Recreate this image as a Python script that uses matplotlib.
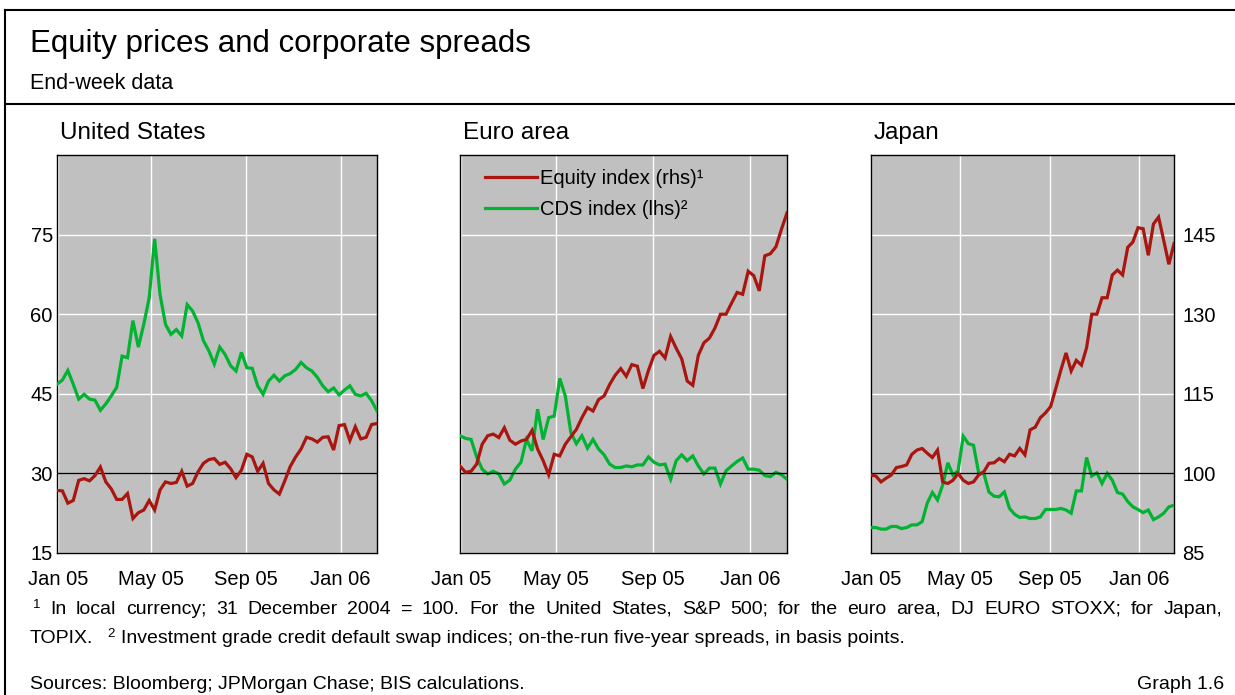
import matplotlib
matplotlib.use('Agg')
import matplotlib.pyplot as plt
from matplotlib.lines import Line2D
import numpy as np
import pandas as pd

plt.rcParams['font.family'] = ['Liberation Sans', 'DejaVu Sans']

# ---------------- data ----------------
dates = pd.date_range('2004-12-31', periods=60, freq='7D')

us_equity = [96.8, 96.7, 94.4, 94.9, 98.7, 99.0, 98.6, 99.6, 101.2, 98.4,
             97.1, 95.1, 95.1, 96.2, 91.5, 92.6, 93.1, 94.9, 93.1, 96.9,
             98.4, 98.1, 98.3, 100.4, 97.6, 98.1, 100.3, 101.9, 102.6, 102.8,
             101.7, 102.1, 100.9, 99.2, 100.6, 103.6, 103.1, 100.4, 101.9, 98.1,
             96.9, 96.1, 98.6, 101.3, 103.1, 104.6, 106.8, 106.5, 105.9, 106.8,
             106.9, 104.4, 109.0, 109.2, 106.2, 108.8, 106.5, 106.8, 109.2, 109.4]
us_cds = [46.8, 47.6, 49.4, 46.8, 44.0, 44.9, 44.0, 43.8, 41.9, 43.1,
          44.6, 46.2, 52.1, 51.8, 58.8, 53.8, 58.1, 63.1, 74.2, 63.7,
          58.1, 56.2, 57.1, 55.9, 61.8, 60.6, 58.4, 55.0, 53.1, 50.6,
          53.8, 52.4, 50.3, 49.3, 52.8, 49.9, 49.8, 46.5, 44.9, 47.4,
          48.5, 47.4, 48.4, 48.8, 49.6, 50.9, 49.9, 49.3, 48.1, 46.5,
          45.4, 46.1, 44.8, 45.7, 46.5, 44.9, 44.6, 45.1, 43.7, 41.8]

ea_equity = [101.4, 100.2, 100.4, 101.75, 105.5, 107.1, 107.4, 106.75, 108.6, 106.25,
             105.5, 106.1, 106.4, 108.1, 104.6, 102.4, 99.75, 103.6, 103.3, 105.5,
             106.9, 108.3, 110.5, 112.4, 111.75, 113.9, 114.6, 116.75, 118.5, 119.75,
             118.3, 120.5, 120.2, 116.0, 119.4, 122.25, 123.0, 121.75, 125.8, 123.6,
             121.6, 117.4, 116.6, 122.25, 124.6, 125.5, 127.4, 130.0, 130.0, 132.1,
             134.1, 133.75, 138.1, 137.25, 134.4, 141.0, 141.4, 142.7, 146.0, 149.1]
ea_cds = [37.1, 36.6, 36.4, 33.1, 30.8, 29.9, 30.4, 29.9, 28.0, 28.75,
          30.8, 32.1, 36.4, 34.25, 42.1, 36.4, 40.5, 40.8, 47.9, 44.6,
          37.7, 35.6, 37.1, 34.75, 36.4, 34.6, 33.5, 31.75, 31.1, 31.1,
          31.4, 31.25, 31.6, 31.6, 33.1, 32.1, 31.6, 31.75, 28.9, 32.4,
          33.5, 32.4, 33.3, 31.4, 29.9, 31.0, 31.0, 28.0, 30.5, 31.4,
          32.25, 32.9, 30.8, 30.8, 30.6, 29.6, 29.4, 30.2, 29.75, 28.9]

jp_equity = [99.7, 99.5, 98.4, 99.1, 99.7, 101.1, 101.3, 101.6, 103.6, 104.4,
             104.7, 103.8, 103.0, 104.4, 98.4, 98.1, 98.7, 100.0, 98.7, 98.1,
             98.4, 99.7, 100.3, 101.9, 102.0, 102.8, 102.2, 103.6, 103.3, 104.7,
             103.5, 108.2, 108.7, 110.5, 111.4, 112.6, 116.0, 119.5, 122.7, 119.3,
             121.3, 120.4, 123.7, 130.0, 130.0, 133.1, 133.1, 137.4, 138.3, 137.4,
             142.6, 143.6, 146.3, 146.1, 141.1, 147.0, 148.3, 143.9, 139.4, 143.3]
jp_cds = [19.8, 19.8, 19.5, 19.5, 20.0, 20.0, 19.6, 19.8, 20.3, 20.3,
          20.9, 24.4, 26.4, 25.0, 27.8, 32.0, 29.7, 30.5, 37.0, 35.6,
          35.3, 30.1, 30.0, 26.5, 25.7, 25.6, 26.5, 23.4, 22.3, 21.7,
          21.8, 21.5, 21.5, 21.8, 23.2, 23.2, 23.2, 23.4, 23.1, 22.5,
          26.7, 26.7, 33.0, 29.5, 30.1, 28.1, 30.0, 28.7, 26.4, 26.1,
          24.7, 23.7, 23.2, 22.6, 23.1, 21.3, 21.8, 22.5, 23.7, 24.0]

panel_titles = ['United States', 'Euro area', 'Japan']
lhs_ticks = [15, 30, 45, 60, 75]
rhs_ticks = [85, 100, 115, 130, 145]
month_ticks = ['2005-01-01', '2005-05-01', '2005-09-01', '2006-01-01']
month_labels = ['Jan 05', 'May 05', 'Sep 05', 'Jan 06']
legend_labels = ['Equity index (rhs)\u00b9', 'CDS index (lhs)\u00b2']

# ---------------- style ----------------
W, H = 1235, 695
RED = '#A8160F'
GREEN = '#00B331'
BG = '#C0C0C0'
LW = 2.3
TICK_FS = 14.5

fig = plt.figure(figsize=(W / 100, H / 100), dpi=100)


def fx(x):
    return x / W


def fy(y):
    return 1 - y / H


# frame lines
fig.add_artist(Line2D([fx(5), fx(5)], [fy(10), fy(700)], color='black', lw=1.5))
fig.add_artist(Line2D([fx(5), 1.0], [fy(10), fy(10)], color='black', lw=1.5))
fig.add_artist(Line2D([fx(5), 1.0], [fy(104), fy(104)], color='black', lw=1.5))

fig.text(fx(30), fy(52), 'Equity prices and corporate spreads', fontsize=22.5,
         va='baseline', ha='left')
fig.text(fx(30), fy(89), 'End-week data', fontsize=15.5, va='baseline', ha='left')

panels = [
    (57, 377, us_cds, us_equity),
    (460, 787, ea_cds, ea_equity),
    (870.7, 1174, jp_cds, jp_equity),
]
top_px, bot_px = 155, 553

xmin = pd.Timestamp('2004-12-31')
xmax = pd.Timestamp('2006-02-17')
tick_dates = [pd.Timestamp(d) for d in month_ticks]

for i, (l, r, cds, eq) in enumerate(panels):
    ax = fig.add_axes([fx(l), fy(bot_px), (r - l) / W, (bot_px - top_px) / H])
    ax.set_facecolor(BG)
    ax.set_xlim(xmin, xmax)
    ax.set_ylim(15, 90)
    ax.set_yticks(lhs_ticks)
    ax.set_xticks(tick_dates)
    ax.set_xticklabels(month_labels)
    ax.grid(True, color='white', lw=1.0)
    ax.set_axisbelow(True)
    ax.tick_params(axis='both', length=0, labelsize=TICK_FS)
    ax.tick_params(axis='x', pad=12)
    ax.tick_params(axis='y', pad=3)
    if i != 0:
        ax.set_yticklabels([])
    for s in ax.spines.values():
        s.set_color('black')
        s.set_linewidth(1.0)
    cds_line, = ax.plot(dates, cds, color=GREEN, lw=LW, solid_joinstyle='miter', zorder=3)

    ax2 = ax.twinx()
    ax2.set_ylim(85, 160)
    ax2.set_yticks(rhs_ticks)
    ax2.tick_params(axis='y', length=0, labelsize=TICK_FS, pad=6)
    if i != 2:
        ax2.set_yticklabels([])
    for s in ax2.spines.values():
        s.set_visible(False)
    ax2.axhline(100, color='black', lw=1.0, zorder=2)
    eq_line, = ax2.plot(dates, eq, color=RED, lw=LW, solid_joinstyle='miter', zorder=3)

    fig.text(fx(l + 3), fy(139), panel_titles[i], fontsize=17.5, va='baseline', ha='left')

    if i == 1:
        ax2.legend([eq_line, cds_line], legend_labels, loc='upper left',
                   bbox_to_anchor=(25 / (r - l), 1 - 14 / (bot_px - top_px)),
                   frameon=False, fontsize=TICK_FS, handlelength=2.6,
                   handletextpad=0.15, borderpad=0, borderaxespad=0,
                   labelspacing=0.6)

# ---------------- footnotes ----------------
fig.canvas.draw()
renderer = fig.canvas.get_renderer()
FS = 14
SUP = 9.5
x_left, x_right = 30, 1222


def width_px(s, size):
    t = fig.text(0, 0, s, fontsize=size)
    w = t.get_window_extent(renderer).width
    t.remove()
    return w


line1 = 'In local currency; 31 December 2004 = 100. For the United States, S&P 500; for the euro area, DJ EURO STOXX; for Japan,'
tokens = [('1', SUP, -6)] + [(w, FS, 0) for w in line1.split(' ')]
widths = [width_px(t, s) for t, s, _ in tokens]
gap = (x_right - x_left - 3 - sum(widths)) / (len(tokens) - 1)
x = x_left + 3
base1 = 614
for (t, s, dy), w in zip(tokens, widths):
    fig.text(fx(x), fy(base1 + dy), t, fontsize=s, va='baseline', ha='left')
    x += w + gap

base2 = 643
x = x_left
fig.text(fx(x), fy(base2), 'TOPIX.', fontsize=FS, va='baseline', ha='left')
x += width_px('TOPIX.', FS) + 14
fig.text(fx(x), fy(base2 - 6), '2', fontsize=SUP, va='baseline', ha='left')
x += width_px('2', SUP) + 6
fig.text(fx(x), fy(base2),
         'Investment grade credit default swap indices; on-the-run five-year spreads, in basis points.',
         fontsize=FS, va='baseline', ha='left')

fig.text(fx(30), fy(689), 'Sources: Bloomberg; JPMorgan Chase; BIS calculations.',
         fontsize=FS, va='baseline', ha='left')
fig.text(fx(1224), fy(689), 'Graph 1.6', fontsize=FS, va='baseline', ha='right')

fig.savefig('out.png', dpi=100)
